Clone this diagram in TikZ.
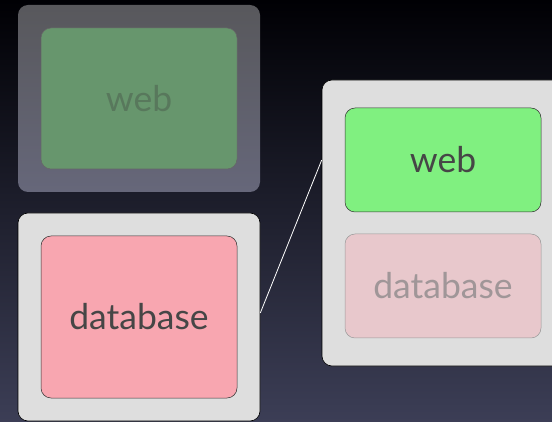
\documentclass[tikz,border=0pt]{standalone}
\usepackage{fontspec}
\setmainfont{Lato}
\definecolor{bgtop}{RGB}{0,0,4}
\definecolor{bgbot}{RGB}{60,62,86}
\definecolor{outerfill}{RGB}{222,222,222}
\definecolor{ghosttop}{RGB}{88,88,92}
\definecolor{ghostbot}{RGB}{102,103,122}
\definecolor{ghostgreen}{RGB}{103,150,109}
\definecolor{ghosttext}{RGB}{88,120,92}
\definecolor{webgreen}{RGB}{128,240,128}
\definecolor{dbpink}{RGB}{248,166,176}
\definecolor{fadepink}{RGB}{232,200,204}
\definecolor{fadetext}{RGB}{160,150,152}
\definecolor{darktext}{RGB}{70,70,70}
\begin{document}
\begin{tikzpicture}[x=1pt,y=-1pt,
  outerbox/.style={rectangle,rounded corners=10pt,inner sep=0pt,draw=black,line width=0.6pt,fill=outerfill},
  innerbox/.style={rectangle,rounded corners=10pt,inner sep=0pt,draw=black!80,line width=0.5pt,
     font=\fontsize{35.5}{38}\selectfont,text=darktext,minimum width=196pt},
  link/.style={draw=white,line width=0.8pt}]
\useasboundingbox (0,0) rectangle (552,422);
\clip (0,0) rectangle (552,422);
\shade[top color=bgtop,bottom color=bgbot] (0,0) rectangle (552,422);
% ghost host (top left)
\node[rectangle,rounded corners=10pt,inner sep=0pt,minimum width=242pt,minimum height=187pt,
      top color=ghosttop,bottom color=ghostbot] (tlout) at (139,98.5) {};
\node[innerbox,draw=black!60,fill=ghostgreen,text=ghosttext,minimum height=141pt] (tlin) at (139,98.5) {web};
% bottom left host
\node[outerbox,minimum width=242pt,minimum height=208pt] (blout) at (139,317) {};
\node[innerbox,fill=dbpink,minimum height=162pt] (blin) at (139,317) {database};
% right host
\node[outerbox,minimum width=260pt,minimum height=286pt] (rout) at (452,223) {};
\node[innerbox,fill=webgreen,minimum height=104pt] (rweb) at (443,160) {web};
\node[innerbox,draw=black!40,fill=fadepink,text=fadetext,minimum height=104pt] (rdb) at (443,286) {database};
\draw[link] (blout.east) ++(0,-4) -- (rweb.west -| rout.west);
\end{tikzpicture}
\end{document}
